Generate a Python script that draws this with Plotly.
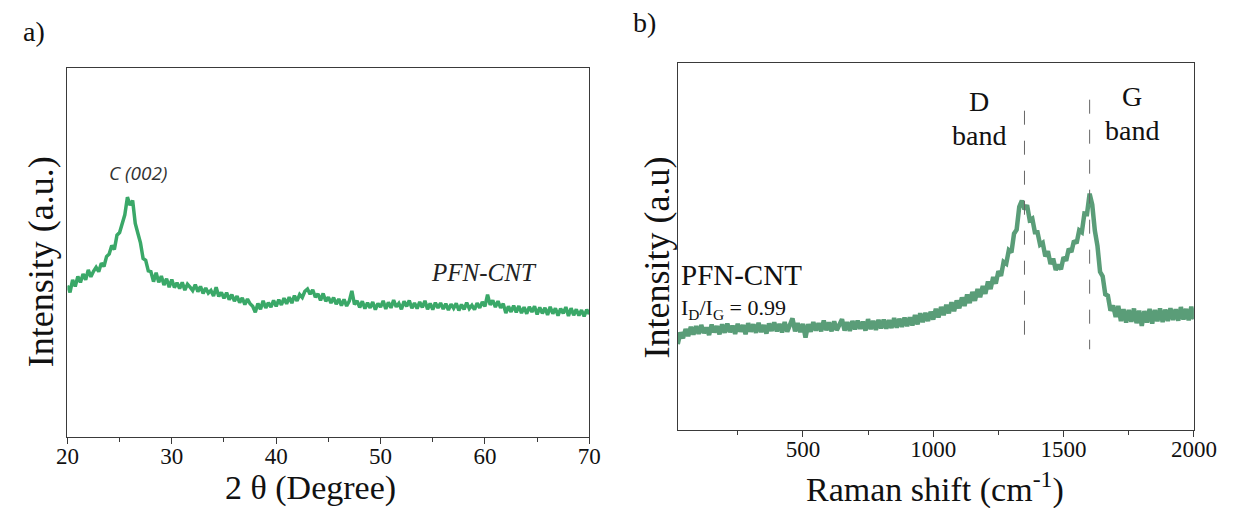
import plotly.graph_objects as go

# ---------------- (a) XRD pattern ----------------
xrd_start, xrd_step = 20.0, 0.25
# intensity (a.u.), one row per degree: 2θ = n.00, n.25, n.50, n.75
xrd_intensity = [
    41.0, 39.2, 42.6, 40.8,   # 20
    43.5, 41.9, 44.2, 42.6,   # 21
    45.3, 43.4, 44.9, 46.0,   # 22
    44.8, 47.1, 46.2, 48.9,   # 23
    49.6, 51.9, 50.8, 54.7,   # 24
    55.4, 57.8, 60.2, 65.0,   # 25
    62.8, 64.1, 57.9, 55.2,   # 26
    52.6, 48.4, 47.9, 45.0,   # 27
    44.8, 42.1, 44.5, 41.9,   # 28
    43.6, 41.2, 42.9, 40.6,   # 29
    42.7, 40.5, 41.8, 40.2,   # 30
    41.9, 39.8, 41.4, 40.6,   # 31
    39.7, 41.3, 39.4, 40.8,   # 32
    38.9, 40.4, 39.0, 39.7,   # 33
    38.2, 40.6, 38.1, 39.2,   # 34
    37.6, 39.1, 37.2, 38.6,   # 35
    36.8, 38.2, 36.4, 37.7,   # 36
    35.9, 37.4, 36.1, 35.4,   # 37
    33.8, 36.2, 34.6, 36.9,   # 38
    35.0, 36.4, 35.2, 37.0,   # 39
    35.4, 37.2, 35.8, 37.6,   # 40
    36.1, 37.9, 36.3, 38.3,   # 41
    36.9, 38.6, 37.8, 39.5,   # 42
    40.1, 38.7, 39.9, 37.9,   # 43
    38.8, 37.0, 38.9, 36.8,   # 44
    37.9, 36.3, 37.8, 36.0,   # 45
    37.4, 35.6, 37.3, 35.5,   # 46
    36.8, 39.6, 35.9, 36.9,   # 47
    35.1, 36.8, 34.8, 36.4,   # 48
    35.0, 36.6, 34.5, 36.2,   # 49
    35.2, 36.9, 34.7, 36.5,   # 50
    35.0, 37.1, 35.3, 36.2,   # 51
    34.6, 36.8, 35.4, 37.0,   # 52
    34.9, 36.3, 34.8, 36.6,   # 53
    35.1, 36.9, 34.6, 36.2,   # 54
    34.5, 36.4, 35.0, 36.3,   # 55
    34.7, 36.1, 34.4, 36.0,   # 56
    34.9, 36.2, 34.3, 35.9,   # 57
    34.6, 36.4, 34.8, 35.7,   # 58
    34.5, 36.3, 35.0, 36.6,   # 59
    35.4, 38.6, 35.8, 37.0,   # 60
    35.2, 36.8, 35.0, 36.1,   # 61
    33.6, 35.4, 33.9, 35.6,   # 62
    33.8, 35.5, 33.6, 35.2,   # 63
    33.4, 35.3, 33.9, 35.4,   # 64
    33.2, 35.1, 33.5, 35.0,   # 65
    33.1, 35.3, 33.4, 34.9,   # 66
    32.9, 34.8, 33.5, 35.2,   # 67
    32.8, 34.9, 33.0, 34.6,   # 68
    32.9, 34.4, 32.7, 34.5,   # 69
    33.3,                     # 70
]
two_theta = [xrd_start + i * xrd_step for i in range(len(xrd_intensity))]
xrd_ticks = [20, 30, 40, 50, 60, 70]

# ---------------- (b) Raman spectrum ----------------
raman_start, raman_step = 20, 10
raman_intensity = [
    23.4, 26.6, 25.0, 27.5, 25.6, 28.1, 26.0, 28.3,                    # 20-90
    26.2, 28.6, 26.4, 27.9, 25.9, 28.7, 26.6, 28.3, 26.1, 28.8,        # 100
    26.5, 29.0, 26.7, 28.4, 26.2, 28.9, 26.8, 28.6, 26.1, 29.1,        # 200
    26.8, 28.8, 26.5, 29.2, 26.7, 28.6, 26.3, 29.0, 27.0, 29.3,        # 300
    26.9, 28.9, 26.6, 29.4, 26.8, 29.0, 30.4, 26.9, 29.1, 26.7,        # 400
    28.9, 25.2, 28.8, 26.8, 29.4, 27.1, 29.1, 26.9, 29.8, 27.2,        # 500
    29.3, 26.9, 29.6, 27.2, 29.1, 30.2, 27.1, 29.4, 27.0, 29.7,        # 600
    27.4, 29.8, 27.6, 29.5, 27.1, 30.2, 27.5, 29.7, 27.3, 30.0,        # 700
    27.7, 30.1, 27.6, 29.9, 27.8, 30.5, 27.9, 30.3, 28.1, 30.6,        # 800
    28.3, 30.7, 28.5, 31.3, 28.8, 31.8, 29.4, 31.9, 29.7, 32.2,        # 900
    30.1, 33.0, 30.7, 33.5, 31.3, 34.1, 31.8, 34.8, 32.4, 35.3,        # 1000
    33.2, 36.1, 33.8, 36.9, 34.6, 37.6, 35.2, 38.4, 36.2, 39.2,        # 1100
    37.1, 40.5, 38.4, 41.7, 39.9, 43.3, 42.0, 45.8, 45.3, 49.0,        # 1200
    48.4, 53.5, 54.6, 60.8, 62.5, 60.1, 61.3, 57.2, 57.6, 53.9,        # 1300
    53.9, 50.5, 51.0, 47.3, 48.7, 45.2, 46.7, 43.6, 45.0, 43.8,        # 1400
    47.1, 46.1, 49.4, 48.5, 51.6, 50.9, 54.4, 53.9, 59.0, 58.9,        # 1500
    64.4, 61.4, 54.3, 50.2, 43.1, 41.9, 37.0, 36.6, 32.5, 33.9,        # 1600
    30.8, 33.8, 29.7, 32.9, 29.3, 32.7, 29.5, 33.1, 29.1, 32.5,        # 1700
    28.4, 32.4, 29.3, 33.0, 29.0, 32.7, 29.6, 33.1, 29.4, 32.8,        # 1800
    29.7, 33.2, 30.0, 32.9, 29.8, 33.5, 30.1, 33.0, 29.9, 33.6,        # 1900
    30.2,                                                              # 2000
]
raman_shift = [raman_start + i * raman_step for i in range(len(raman_intensity))]
raman_ticks = [500, 1000, 1500, 2000]

# band positions marked with dotted guides (cm-1) and their vertical extent
band_positions = [1350, 1600]
band_guide_top = [87, 90]
band_guide_bottom = 22

XRD_COLOR = "rgb(58,168,104)"
RAMAN_COLOR = "rgb(90,157,120)"
SERIF = "Liberation Serif"
AXIS_LINE = "#3a3a3a"

fig = go.Figure()
fig.add_trace(go.Scatter(x=two_theta, y=xrd_intensity, mode="lines",
                         line=dict(color=XRD_COLOR, width=3.5),
                         xaxis="x", yaxis="y", showlegend=False))
fig.add_trace(go.Scatter(x=raman_shift, y=raman_intensity, mode="lines",
                         line=dict(color=RAMAN_COLOR, width=4.5),
                         xaxis="x2", yaxis="y2", showlegend=False))

W, H = 1248, 508
ax_common = dict(showline=True, mirror=True, linecolor=AXIS_LINE, linewidth=1,
                 showgrid=False, zeroline=False)
xtick_style = dict(ticks="outside", ticklen=6, tickwidth=1, tickcolor=AXIS_LINE,
                   ticklabelstandoff=-8,
                   tickfont=dict(family=SERIF, size=23, color="#111"))

fig.update_layout(
    width=W, height=H, margin=dict(l=0, r=0, t=0, b=0),
    paper_bgcolor="white", plot_bgcolor="white",
    xaxis=dict(domain=[57 / W, 594 / W], range=[20, 70], tickvals=xrd_ticks,
               minor=dict(dtick=5, ticks="outside", ticklen=4, tickcolor=AXIS_LINE),
               anchor="y", **ax_common, **xtick_style),
    yaxis=dict(domain=[1 - 437 / H, 1 - 68 / H], range=[0, 100], showticklabels=False,
               ticks="", anchor="x", **ax_common),
    xaxis2=dict(domain=[685 / W, 1216 / W], range=[20, 2000], tickvals=raman_ticks,
                minor=dict(dtick=250, tick0=0, ticks="outside", ticklen=4, tickcolor=AXIS_LINE),
                anchor="y2", **ax_common, **xtick_style),
    yaxis2=dict(domain=[1 - 430 / H, 1 - 63 / H], range=[0, 100], showticklabels=False,
                ticks="", anchor="x2", **ax_common),
)

# dotted guides at the D and G bands (drawn top-down so the pattern starts at the top)
for pos, top in zip(band_positions, band_guide_top):
    fig.add_shape(type="line", xref="x2", yref="y2", x0=pos, x1=pos,
                  y0=top, y1=band_guide_bottom,
                  line=dict(color="#666", width=1, dash="14px,16px"))


def px_note(text, x, y, size, italic=False, family=SERIF, angle=0, color="#111"):
    fig.add_annotation(text=text, xref="paper", yref="paper", x=x / W, y=1 - y / H,
                       xanchor="center", yanchor="middle", showarrow=False, textangle=angle,
                       font=dict(family=family, size=size, color=color,
                                 style="italic" if italic else "normal"))


# panel letters
px_note("a)", 23, 31, 28)
px_note("b)", 651, 22, 28)

# axis titles
px_note("2 θ (Degree)", 307, 488, 34)
px_note("Intensity (a.u.)", 30, 262, 36, angle=-90)
px_note("Raman shift (cm<sup>-1</sup>)", 950, 487, 34)
px_note("Intensity (a.u)", 664, 257, 36, angle=-90)

# labels inside panel (a)
px_note("C (002)", 130, 173, 19, italic=True, family="Open Sans", color="#333")
px_note("PFN-CNT", 486, 272, 25, italic=True, color="#222")

# labels inside panel (b)
fig.add_annotation(text="PFN-CNT", xref="paper", yref="paper", x=686 / W, y=1 - 275 / H,
                   xanchor="left", yanchor="middle", showarrow=False,
                   font=dict(family=SERIF, size=29, color="#111"))
fig.add_annotation(text="I<sub>D</sub>/I<sub>G</sub> = 0.99", xref="paper", yref="paper",
                   x=686 / W, y=1 - 309 / H, xanchor="left", yanchor="middle", showarrow=False,
                   font=dict(family=SERIF, size=22, color="#111"))
px_note("D", 995, 102, 28)
px_note("band", 995, 136, 28)
px_note("G", 1152, 96, 28)
px_note("band", 1152, 130, 28)

fig.write_html("out.html")
